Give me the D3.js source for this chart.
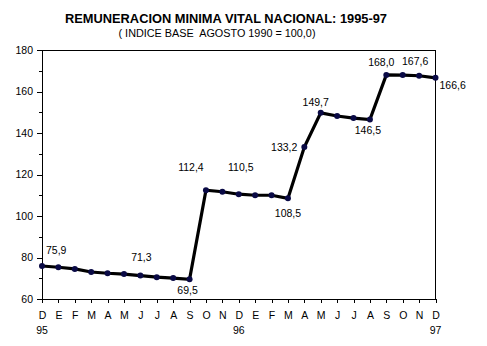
<!DOCTYPE html>
<html><head><meta charset="utf-8">
<script src="https://cdn.jsdelivr.net/npm/d3@7"></script>
<style>
html,body{margin:0;padding:0;background:#fff;}
svg{display:block;font-family:"Liberation Sans",Arial,sans-serif;}
</style></head>
<body><svg id="c" width="487" height="346"></svg>
<script>
const months = ["D","E","F","M","A","M","J","J","A","S","O","N","D","E","F","M","A","M","J","J","A","S","O","N","D"];
const yearLabels = [{i:0,t:"95"},{i:12,t:"96"},{i:24,t:"97"}];
const values = [75.9,75.3,74.5,73.0,72.4,72.0,71.3,70.5,70.1,69.5,112.4,111.7,110.5,110.0,110.0,108.5,133.2,149.7,148.2,147.2,146.5,168.0,167.9,167.6,166.6];
const labeled = [
  {i:0, t:"75,9", dx:4, dy:-16, a:"start"},
  {i:6, t:"71,3", dx:1, dy:-18, a:"middle"},
  {i:9, t:"69,5", dx:-2, dy:11, a:"middle"},
  {i:10,t:"112,4", dx:-15, dy:-23, a:"middle"},
  {i:12,t:"110,5", dx:2, dy:-27, a:"middle"},
  {i:15,t:"108,5", dx:0, dy:15, a:"middle"},
  {i:16,t:"133,2", dx:-7, dy:0, a:"end"},
  {i:17,t:"149,7", dx:-5, dy:-11, a:"middle"},
  {i:20,t:"146,5", dx:-2, dy:11, a:"middle"},
  {i:21,t:"168,0", dx:-5, dy:-13, a:"middle"},
  {i:23,t:"167,6", dx:-4, dy:-14, a:"middle"},
  {i:24,t:"166,6", dx:4, dy:8, a:"start"}
];
const yTicks = [60,80,100,120,140,160,180];
const yMinor = [70,90,110,130,150,170];

const svg = d3.select("#c");
const L=42, R=435.5, T=50, B=299;
const x = d3.scaleLinear().domain([0,24]).range([L,R]);
const y = d3.scaleLinear().domain([60,180]).range([B,T]);

svg.append("text").attr("x",226).attr("y",23).attr("text-anchor","middle")
  .style("font-family","'Liberation Sans Narrow','Arial Narrow','Liberation Sans',sans-serif")
  .style("font-weight","bold").style("font-size","13.5px")
  .attr("textLength",322).attr("lengthAdjust","spacingAndGlyphs")
  .text("REMUNERACION MINIMA VITAL NACIONAL: 1995-97");
svg.append("text").attr("x",217).attr("y",37).attr("text-anchor","middle")
  .style("font-size","10px").style("white-space","pre").attr("textLength",197).attr("lengthAdjust","spacingAndGlyphs")
  .text("( INDICE BASE  AGOSTO 1990 = 100,0)");

// frame
svg.append("rect").attr("x",L).attr("y",T).attr("width",R-L).attr("height",B-T)
  .attr("fill","none").attr("stroke","#000").attr("stroke-width",1).attr("shape-rendering","crispEdges");

// y axis
const ya = svg.append("g").attr("transform",`translate(${L},0)`)
  .call(d3.axisLeft(y).tickValues(yTicks).tickSize(5).tickFormat(d3.format("d")));
ya.select(".domain").remove();
ya.selectAll("text").style("font-size","10.5px").style("font-family","'Liberation Sans',Arial,sans-serif").attr("x",-9).attr("fill","#000");
ya.selectAll("line").attr("stroke","#000").attr("shape-rendering","crispEdges");
const ym = svg.append("g").attr("transform",`translate(${L},0)`)
  .call(d3.axisLeft(y).tickValues(yMinor).tickSize(3).tickFormat(""));
ym.select(".domain").remove();
ym.selectAll("line").attr("stroke","#000").attr("shape-rendering","crispEdges");

// x axis
const xa = svg.append("g").attr("transform",`translate(0,${B})`)
  .call(d3.axisBottom(x).tickValues(d3.range(25)).tickSize(4).tickPadding(9).tickFormat(i=>months[i]));
xa.select(".domain").remove();
xa.selectAll("text").style("font-size","10.5px").style("font-family","'Liberation Sans',Arial,sans-serif").attr("fill","#000");
xa.selectAll("line").attr("stroke","#000").attr("shape-rendering","crispEdges");
svg.append("g").selectAll("text").data(yearLabels).join("text")
  .attr("x",d=>x(d.i)).attr("y",334).attr("text-anchor","middle")
  .style("font-size","10.5px").text(d=>d.t);

// line
const line = d3.line().x((d,i)=>x(i)).y(d=>y(d));
svg.append("path").datum(values).attr("d",line).attr("fill","none")
  .attr("stroke","#000").attr("stroke-width",3.2).attr("stroke-linejoin","miter");
svg.append("g").selectAll("circle").data(values).join("circle")
  .attr("cx",(d,i)=>x(i)).attr("cy",d=>y(d)).attr("r",3).attr("fill","#0a0a45");

// data labels
svg.append("g").selectAll("text").data(labeled).join("text")
  .attr("x",d=>x(d.i)+d.dx).attr("y",d=>y(values[d.i])+d.dy).attr("dy","0.35em")
  .attr("text-anchor",d=>d.a).style("font-size","10.5px").text(d=>d.t);
</script></body></html>
